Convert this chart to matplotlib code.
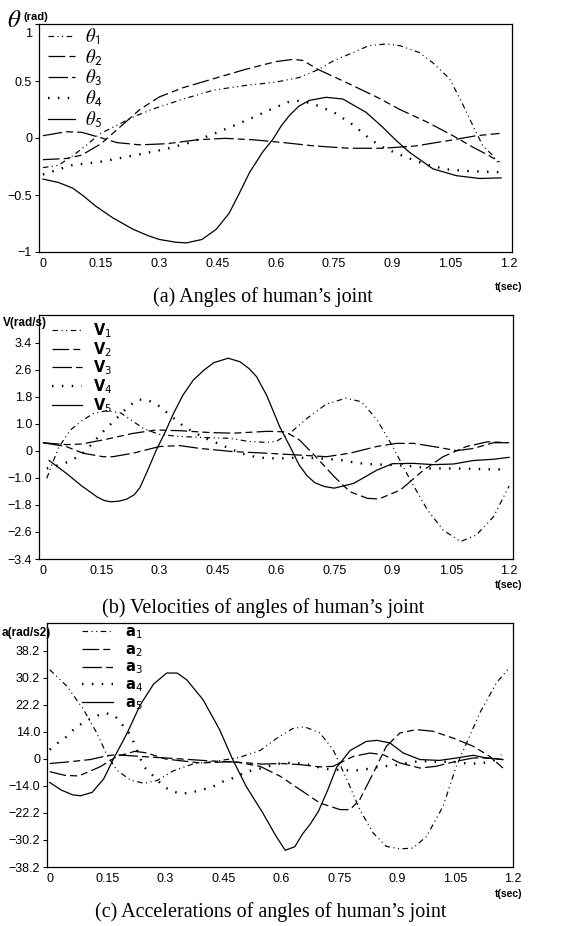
import matplotlib
matplotlib.use('Agg')
import matplotlib.pyplot as plt
from matplotlib import font_manager
from matplotlib.transforms import ScaledTranslation

# ---------------- data: (a) angles ----------------
t_th1 = [0, 0.04, 0.077, 0.11, 0.146, 0.19, 0.23, 0.28, 0.36, 0.44, 0.52, 0.6, 0.66, 0.71, 0.75, 0.8,
         0.84, 0.885, 0.92, 0.97, 1.005, 1.048, 1.08, 1.108, 1.134, 1.16, 1.177]
th1 = [-0.26, -0.24, -0.155, -0.07, 0.035, 0.11, 0.18, 0.25, 0.34, 0.42, 0.46, 0.49, 0.53, 0.6, 0.68, 0.75,
       0.81, 0.825, 0.81, 0.75, 0.66, 0.52, 0.31, 0.11, -0.07, -0.155, -0.24]
t_th2 = [0, 0.06, 0.1, 0.15, 0.2, 0.25, 0.3, 0.36, 0.45, 0.52, 0.6, 0.645, 0.67, 0.71, 0.78, 0.86, 0.92,
         0.99, 1.057, 1.108, 1.15, 1.177]
th2 = [-0.19, -0.18, -0.15, -0.05, 0.1, 0.25, 0.36, 0.44, 0.53, 0.6, 0.67, 0.69, 0.68, 0.6, 0.49, 0.36, 0.25,
       0.14, 0.02, -0.08, -0.155, -0.21]
t_th3 = [0, 0.06, 0.1, 0.146, 0.19, 0.25, 0.32, 0.4, 0.47, 0.54, 0.62, 0.7, 0.79, 0.876, 0.96, 1.05, 1.117, 1.177]
th3 = [0.02, 0.055, 0.05, 0.006, -0.04, -0.06, -0.05, -0.015, -0.003, -0.015, -0.04, -0.07, -0.09, -0.09,
       -0.07, -0.02, 0.02, 0.04]
t_th4 = [0, 0.073, 0.155, 0.239, 0.318, 0.375, 0.428, 0.479, 0.533, 0.584, 0.636, 0.664, 0.696, 0.75, 0.8,
         0.845, 0.88, 0.932, 0.984, 1.04, 1.095, 1.177]
th4 = [-0.32, -0.24, -0.205, -0.15, -0.096, -0.044, 0.02, 0.09, 0.167, 0.246, 0.32, 0.327, 0.3, 0.225, 0.114,
       -0.015, -0.088, -0.164, -0.228, -0.275, -0.29, -0.3]
t_th5 = [0, 0.04, 0.077, 0.105, 0.137, 0.18, 0.232, 0.27, 0.3, 0.344, 0.37, 0.41, 0.447, 0.48, 0.507, 0.533,
         0.567, 0.593, 0.615, 0.636, 0.66, 0.687, 0.73, 0.773, 0.833, 0.876, 0.91, 0.945, 1.005, 1.065, 1.125,
         1.181]
th5 = [-0.36, -0.39, -0.44, -0.51, -0.6, -0.7, -0.8, -0.855, -0.89, -0.915, -0.92, -0.89, -0.8, -0.66, -0.48,
       -0.3, -0.12, -0.01, 0.11, 0.2, 0.28, 0.33, 0.357, 0.342, 0.225, 0.094, -0.02, -0.126, -0.27, -0.33,
       -0.355, -0.35]

# ---------------- data: (b) velocities (plotted on evenly spaced tick scale) ----------------
t_v1 = [0.01, 0.04, 0.07, 0.1, 0.13, 0.165, 0.2, 0.23, 0.26, 0.3, 0.35, 0.42, 0.48, 0.53, 0.575, 0.6, 0.635,
        0.68, 0.73, 0.78, 0.82, 0.86, 0.9, 0.945, 0.99, 1.03, 1.075, 1.115, 1.16, 1.2]
v1 = [-0.86, 0.1, 0.65, 0.95, 1.18, 1.27, 1.2, 0.95, 0.7, 0.52, 0.46, 0.42, 0.4, 0.3, 0.27, 0.3, 0.55,
      1.03, 1.48, 1.66, 1.55, 0.98, 0.15, -0.9, -1.86, -2.49, -2.85, -2.65, -2.07, -1.1]
t_v2 = [0, 0.06, 0.1, 0.16, 0.23, 0.29, 0.35, 0.43, 0.49, 0.58, 0.625, 0.66, 0.7, 0.75, 0.79, 0.835, 0.865,
        0.92, 0.98, 1.03, 1.09, 1.145, 1.2]
v2 = [0.26, 0.2, 0.22, 0.36, 0.55, 0.66, 0.64, 0.58, 0.56, 0.62, 0.6, 0.35, -0.15, -0.81, -1.28, -1.49, -1.51,
      -1.23, -0.6, -0.18, 0.14, 0.29, 0.26]
t_v3 = [0, 0.06, 0.103, 0.155, 0.18, 0.232, 0.3, 0.352, 0.404, 0.49, 0.576, 0.662, 0.73, 0.79, 0.859, 0.91,
        0.954, 1.005, 1.065, 1.108, 1.16, 1.2]
v3 = [0.26, 0.14, -0.07, -0.18, -0.18, -0.07, 0.14, 0.17, 0.08, -0.02, -0.07, -0.13, -0.18, -0.07, 0.14, 0.24,
      0.24, 0.14, 0.01, 0.08, 0.26, 0.26]
t_v4 = [0.01, 0.04, 0.07, 0.1, 0.125, 0.15, 0.175, 0.2, 0.22, 0.245, 0.27, 0.295, 0.32, 0.34, 0.365, 0.39,
        0.415, 0.44, 0.465, 0.49, 0.515, 0.545, 0.575, 0.62, 0.655, 0.71, 0.765, 0.79, 0.82, 0.85, 0.9, 0.96,
        0.99, 1.05, 1.1, 1.155, 1.185]
v4 = [-0.55, -0.45, -0.32, -0.1, 0.2, 0.55, 0.85, 1.15, 1.4, 1.62, 1.6, 1.45, 1.2, 1.0, 0.75, 0.58,
      0.42, 0.29, 0.16, 0.03, -0.09, -0.18, -0.23, -0.23, -0.21, -0.23, -0.28, -0.34, -0.39, -0.42, -0.44, -0.49,
      -0.55, -0.55, -0.56, -0.58, -0.58]
t_v5 = [0.016, 0.06, 0.1, 0.14, 0.158, 0.175, 0.195, 0.215, 0.235, 0.25, 0.27, 0.292, 0.315, 0.335, 0.36,
        0.387, 0.415, 0.44, 0.477, 0.507, 0.53, 0.55, 0.576, 0.61, 0.636, 0.66, 0.68, 0.7, 0.725, 0.75, 0.8,
        0.86, 0.9, 0.954, 1.005, 1.057, 1.108, 1.16, 1.2]
v5 = [-0.3, -0.7, -1.1, -1.45, -1.56, -1.6, -1.58, -1.52, -1.38, -1.15, -0.6, 0.03, 0.6, 1.15, 1.75,
      2.23, 2.55, 2.78, 2.92, 2.81, 2.6, 2.34, 1.75, 0.75, 0.14, -0.45, -0.78, -1.0, -1.12, -1.17, -1.02,
      -0.6, -0.4, -0.39, -0.43, -0.41, -0.3, -0.26, -0.2]

# ---------------- data: (c) accelerations (plotted on evenly spaced tick scale) ----------------
t_a1 = [0, 0.045, 0.088, 0.122, 0.148, 0.174, 0.21, 0.245, 0.28, 0.32, 0.37, 0.43, 0.49, 0.545, 0.59, 0.63,
        0.66, 0.7, 0.734, 0.77, 0.803, 0.838, 0.872, 0.907, 0.941, 0.976, 1.019, 1.053, 1.08, 1.114, 1.157, 1.19]
a1 = [31.6, 25.7, 17.4, 9.2, 1.5, -4.0, -7.5, -8.6, -7.5, -4.2, -1.8, -0.8, 0.5, 3.0, 7.5, 10.8,
      11.4, 9.2, 3.3, -7.3, -17.9, -26.2, -30.9, -31.8, -31.5, -27.4, -16.7, -2.6, 5.7, 16.3, 26.9, 32.2]
t_a2 = [0, 0.04, 0.075, 0.13, 0.174, 0.22, 0.25, 0.3, 0.39, 0.476, 0.545, 0.597, 0.648, 0.7, 0.752, 0.778,
        0.803, 0.838, 0.872, 0.907, 0.95, 0.993, 1.045, 1.097, 1.14, 1.174]
a2 = [-4.5, -5.8, -6.0, -2.8, 0.9, 2.7, 2.2, 0.0, -1.4, -0.9, -2.6, -6.1, -10.8, -15.6, -17.9, -17.9,
      -14.4, -5.0, 4.5, 9.2, 10.4, 9.8, 7.4, 4.5, 0.9, -3.2]
t_a3 = [0, 0.05, 0.105, 0.15, 0.174, 0.234, 0.303, 0.407, 0.493, 0.55, 0.6, 0.65, 0.7, 0.734, 0.786, 0.829,
        0.864, 0.907, 0.959, 1.0, 1.053, 1.097, 1.14, 1.174]
a3 = [-1.6, -1.0, -0.2, 1.2, 1.5, 0.9, 0.35, -0.6, -1.2, -1.8, -1.6, -2.0, -2.8, -2.6, 0.9, 2.1,
      1.5, -1.4, -3.2, -2.6, -0.8, 0.35, 0.35, -0.2]
t_a4 = [0, 0.023, 0.045, 0.066, 0.092, 0.118, 0.144, 0.17, 0.191, 0.209, 0.222, 0.243, 0.269, 0.295, 0.316,
        0.342, 0.368, 0.398, 0.424, 0.45, 0.476, 0.502, 0.528, 0.553, 0.579, 0.605, 0.631, 0.661, 0.687, 0.713,
        0.743, 0.769, 0.795, 0.825, 0.851, 0.877, 0.907, 0.933, 0.959, 0.984, 1.01, 1.036, 1.066, 1.092, 1.122,
        1.148, 1.17]
a4 = [3.3, 5.9, 8.0, 11.0, 13.3, 15.1, 16.3, 15.1, 11.6, 8.6, 4.5, -2.6, -6.1, -9.7, -11.4,
      -12.3, -11.8, -10.8, -9.7, -7.9, -6.7, -5.0, -3.8, -3.2, -2.0, -1.4, -1.4, -1.7, -2.6, -3.5,
      -3.8, -4.0, -4.0, -3.5, -2.8, -2.4, -2.0, -1.2, -0.8, -0.8, -1.2, -0.8, -1.4, -1.7, -1.4,
      -0.8, 1.5]
t_a5 = [0, 0.03, 0.06, 0.08, 0.11, 0.14, 0.165, 0.2, 0.234, 0.269, 0.303, 0.33, 0.355, 0.397, 0.44, 0.474,
        0.509, 0.552, 0.585, 0.61, 0.635, 0.655, 0.675, 0.696, 0.72, 0.743, 0.778, 0.82, 0.847, 0.881, 0.916,
        0.959, 1.01, 1.053, 1.097, 1.131, 1.174]
a5 = [-8.3, -11.0, -12.7, -13.0, -11.8, -7.0, 0.0, 9.0, 19.0, 26.5, 30.4, 30.4, 28.0, 21.0, 10.4, -0.2,
      -9.7, -19.1, -27.0, -32.3, -31.0, -26.5, -23.0, -18.5, -11.0, -3.0, 3.0, 6.2, 6.6, 5.7, 2.1,
      -0.2, -0.5, 0.35, 1.3, 0.35, -0.2]

x_ticks = [0, 0.15, 0.3, 0.45, 0.6, 0.75, 0.9, 1.05, 1.2]
x_ticklabels = ['0', '0.15', '0.3', '0.45', '0.6', '0.75', '0.9', '1.05', '1.2']
a_yticks = [-1, -0.5, 0, 0.5, 1]
a_yticklabels = ['\u22121', '\u22120.5', '0', '0.5', '1']
b_yticks = [-3.4, -2.55, -1.7, -0.85, 0, 0.85, 1.7, 2.55, 3.4]
b_yticklabels = ['\u22123.4', '\u22122.6', '\u22121.8', '\u22121.0', '0', '1.0', '1.8', '2.6', '3.4']
c_yticks = [-38.2, -28.65, -19.1, -9.55, 0, 9.55, 19.1, 28.65, 38.2]
c_yticklabels = ['\u221238.2', '\u221230.2', '\u221222.2', '\u221214.0', '0', '14.0', '22.2', '30.2', '38.2']

a_labels = [r'$\theta_{\mathsf{%d}}$' % i for i in range(1, 6)]
b_labels = [r'$\mathbf{V}_{\mathsf{%d}}$' % i for i in range(1, 6)]
c_labels = [r'$\mathbf{a}_{\mathsf{%d}}$' % i for i in range(1, 6)]

# ---------------- figure ----------------
plt.rcParams['lines.scale_dashes'] = False
plt.rcParams['mathtext.fontset'] = 'stix'
names = {f.name for f in font_manager.fontManager.ttflist}
NARROW = 'Liberation Sans Narrow' in names
SANS = 'Liberation Sans Narrow' if NARROW else 'Liberation Sans'
TICK_FS = 10 if NARROW else 9
SERIF = 'Liberation Serif'

W, H = 569, 926
fig = plt.figure(figsize=(W / 100, H / 100), dpi=100)


def ax_px(l, t, r, b):
    return fig.add_axes([l / W, 1 - b / H, (r - l) / W, (b - t) / H])


styles = [
    dict(linestyle=(0, (4, 2.5, 0.8, 2.5, 0.8, 2.5)), linewidth=0.85),
    dict(linestyle=(0, (12, 3, 5, 3, 5, 3)), linewidth=0.9),
    dict(linestyle=(0, (14, 3, 5, 3)), linewidth=0.9),
    dict(linestyle=(0, (1.1, 6.0)), linewidth=1.7, dash_capstyle='butt'),
    dict(linestyle='-', linewidth=0.9),
]


def panel(ax, series, xlim, ylim, yticks, yticklabels, labels, leg):
    for (t, v), st, lab in zip(series, styles, labels):
        ax.plot(t, v, color='black', label=lab, **st)
    ax.set_xlim(*xlim)
    ax.set_ylim(*ylim)
    ax.set_xticks(x_ticks)
    ax.set_xticklabels(x_ticklabels)
    ax.set_yticks(yticks)
    ax.set_yticklabels(yticklabels)
    ax.tick_params(axis='x', length=0, pad=4)
    ax.tick_params(axis='y', length=3, width=0.8, pad=2, direction='out')
    for lab in ax.get_xticklabels() + ax.get_yticklabels():
        lab.set_fontfamily(SANS)
        lab.set_fontsize(TICK_FS)
    for s in ax.spines.values():
        s.set_linewidth(0.9)
    lg = ax.legend(loc='upper left', bbox_to_anchor=leg['anchor'], frameon=False,
                   fontsize=leg['fs'], handlelength=leg['hl'], handletextpad=leg['tp'],
                   labelspacing=leg['ls'], borderpad=0, borderaxespad=0)
    for txt in lg.get_texts():
        if leg.get('mff'):
            txt.set_math_fontfamily(leg['mff'])
    return lg


axA = ax_px(39, 24, 512, 252)
panel(axA, [(t_th1, th1), (t_th2, th2), (t_th3, th3), (t_th4, th4), (t_th5, th5)],
      (-0.01, 1.209), (-1, 1), a_yticks, a_yticklabels, a_labels,
      dict(anchor=(0.019, 0.99), fs=13.5, hl=1.45, tp=0.55, ls=0.0))
# the top "1" label sits just below the top edge
top_lab = axA.yaxis.get_major_ticks()[-1].label1
top_lab.set_verticalalignment('top')
top_lab.set_transform(top_lab.get_transform() + ScaledTranslation(0, -3 / 72, fig.dpi_scale_trans))

axB = ax_px(39, 315, 513, 559)
panel(axB, [(t_v1, v1), (t_v2, v2), (t_v3, v3), (t_v4, v4), (t_v5, v5)],
      (-0.01, 1.21), (-3.4, 4.28), b_yticks, b_yticklabels, b_labels,
      dict(anchor=(0.027, 0.975), fs=10.5, hl=2.1, tp=0.7, ls=0.0, mff='dejavusans'))

axC = ax_px(47, 623, 513, 867)
panel(axC, [(t_a1, a1), (t_a2, a2), (t_a3, a3), (t_a4, a4), (t_a5, a5)],
      (-0.007, 1.2), (-38.2, 48.1), c_yticks, c_yticklabels, c_labels,
      dict(anchor=(0.075, 0.996), fs=10.5, hl=2.1, tp=0.85, ls=0.08, mff='dejavusans'))


def ftext(px, py, s, **kw):
    fig.text(px / W, 1 - py / H, s, **kw)


# axis titles
ftext(7, 20, r'$\theta$', fontsize=18, ha='left', va='center')
ftext(23, 17, '(rad)', fontsize=8, fontweight='bold', family=SANS, ha='left', va='center')
ftext(3, 323, 'V(rad/s)', fontsize=8.5, fontweight='bold', family=SANS, ha='left', va='center')
ftext(2, 633, 'a(rad/s2)', fontsize=8.5, fontweight='bold', family=SANS, ha='left', va='center')
for y in (287, 585, 894):
    ftext(522, y, 't(sec)', fontsize=7.5, fontweight='bold', family=SANS, ha='right', va='center')

# captions
ftext(263, 297, '(a) Angles of human\u2019s joint', fontsize=14.5, family=SERIF, ha='center', va='center')
ftext(263, 608, '(b) Velocities of angles of human\u2019s joint', fontsize=14.5, family=SERIF,
      ha='center', va='center')
ftext(271, 912, '(c) Accelerations of angles of human\u2019s joint', fontsize=14.5, family=SERIF,
      ha='center', va='center')

fig.savefig('out.png', dpi=100)
